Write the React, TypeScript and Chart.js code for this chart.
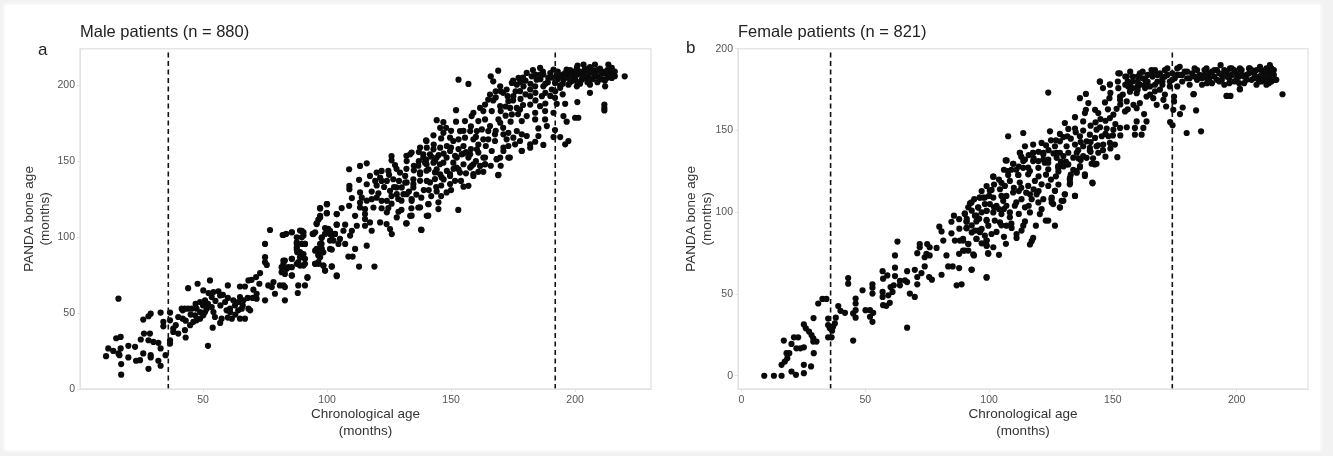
import React, { useEffect, useRef } from "react";
import { Chart, registerables } from "chart.js";

Chart.register(...registerables);

const FONT = '"Liberation Sans", Arial, sans-serif';

const maleTitle = "Male patients (n = 880)";
const femaleTitle = "Female patients (n = 821)";
const xAxisTitle = ["Chronological age", "(months)"];
const yAxisTitle = ["PANDA bone age", "(months)"];

const maleXTicks = [50, 100, 150, 200];
const maleYTicks = [0, 50, 100, 150, 200];
const femaleXTicks = [0, 50, 100, 150, 200];
const femaleYTicks = [0, 50, 100, 150, 200];
const maleCutoffs = [36, 192];
const femaleCutoffs = [36, 174];

const malePoints: number[][] = [
  [10.9,21.6],[11.8,26.7],[13.8,25.1],[15.9,23.4],[15.9,59.5],[15,33.4],[16.8,34.3],[17,9.4],[17,16.4],[16.8,26.7],[16.3,22.3],[19.9,28.4],[19.9,20.8],[22.6,27.8],[23,18.6],[24.6,19],[24.9,32.6],[25.9,23.4],[25.9,45.7],[28,47.9],[28.9,49.6],[26.2,36.5],[28.6,36.5],[28,32.1],[28,13.3],[28.9,22.3],[28.9,20.8],[30,31],[32,30.4],[32.9,26.7],[32,18.6],[32.9,15.3],[34.9,22.3],[32.9,50.3],[34,44.2],[34,41.3],
  [36.7,50.3],[36.7,45.2],[36.7,32.1],[36.7,29.9],[38,39.8],[38,37.6],[40,36.5],[40,47.4],[41.8,46.3],[41.8,51.8],[43,33.9],[42.7,38.7],[44,66.4],[44,52.9],[44.8,42],[42.7,52.9],[45.4,52.9],[47.8,69.3],[52.8,71.5],[60,68.2],[64.9,67.5],[66.9,67.5],[68.3,71.5],[69.6,71.9],[71.4,73.7],[73,76.3],
  [48.8,57.3],[50.8,58.4],[50.1,64.9],[52.2,63.2],[54.2,63.8],[56.2,64.3],[56.9,61.6],[53.5,60.5],[50.8,50.7],[48.8,50.7],[47.4,52.9],[46.8,48.5],[48.8,46.3],[46.1,44.2],[47.4,45.2],[50.1,48.5],[51.5,52.9],[53.5,54],[54.2,50.7],[54.8,47.4],[57.5,46.3],[56.9,43.5],[53.9,40.4],[52,28.4],[58.9,57.3],[59.5,51.8],[60.9,52.9],[61.6,46.3],[60.9,50.7],[62.2,58.4],[62.9,55.1],[64.2,57.3],[64.9,60.5],[65.6,52.9],[66.9,46.3],[64.9,46.3],[66.3,58.4],[68.3,52.9],[69,51.8],[64.2,51.8],[41.4,52.9],
  [75,95.5],[75,86.8],[75,83.5],[75.7,81.7],[77,104.7],[76.3,68.2],[78.4,70.4],[77.7,67.1],[79,62.7],[75,58.4],[71.6,62.7],[71.6,59.5],[70.3,65.4],[72.7,69.3],[82.1,101.4],[83.5,102.1],[83,84.6],[82.4,82.4],[81.7,80.2],[81.7,76.9],[83,75.8],[83.7,79.1],[83,58.4],[82.4,68.2],[81,68.2],[83,67.1],[85.8,103.2],[85.8,85.7],[85.8,80.2],[85.8,74.8],[89.1,104.3],[90.5,103.2],[87.8,96.6],[87.8,93.3],[88,90.1],[89.8,95.5],[91.1,95.5],[89.1,90.1],[89.8,86.8],[91.1,85.7],[89.1,81.3],[91.1,82.4],[88.4,83.5],[88.4,68.2],[91.1,68.2],[88.2,63.2],[92.1,73.2],[89.8,99.9],
  [94.2,102.1],[95.2,103.2],[97.2,119.1],[100,121.7],[99.9,115.8],[97.2,113],[95.8,108.6],[95.2,91.1],[96.5,89],[95.2,82.4],[96.5,82.4],[97.2,86.8],[97.9,92.2],[97.2,95.5],[97.9,99.9],[99.2,102.1],[100.5,105.4],[101.2,102.1],[98.5,81.3],[99.2,78],[101.9,80.7],[101.2,92.2],[102.6,97.7],[103.9,115.2],[103.9,108.2],[103.9,74.8],[103.2,102.1],
  [126,153.4],[126,150.6],[116,148.6],[113.3,146.9],[108.9,144.7],[127.4,147.5],[132.1,150.1],[133.5,154.5],[138.8,152.3],[120,142.5],[117.3,140.3],[122,143.6],[124.7,143.6],[112.9,137.7],[116,134.8],[119.4,137],[121.4,139.2],[124.1,137],[126.7,138.1],[129.4,142.5],[131.5,140.3],[131.5,135.9],[134.8,138.1],[137.5,141.4],[140.2,137],[109,133.7],[109,131.6],[113.3,129.4],[120.7,128.9],[125.4,130.5],[128.1,128.3],[130.8,128.3],[134.8,132.7],[110,125.7],[113.3,122.8],[122,123.9],[124.1,123.9],[134.1,123.9],[99.9,121.7],[97.2,118.9],[108.9,120.6],[105.9,119.1],[99.9,115.8],[103.9,115.2],[97.2,114],[96.5,111.5],[95.8,109],[113.3,119.5],[115.3,118.4],[118.7,119.5],[115.3,115.2],[111.3,114],[124.1,116.3],[124.7,119.1],[128.8,116.7],[128.1,113],[133.5,114],[136.8,119.5],[140.9,121.7],[140.2,114],[131.9,109],[137.9,104.9],
  [82.4,101.4],[85.8,103.2],[89.8,104.2],[90.5,101],[94.5,102],[99.2,106],[101.2,104.2],[101.9,101],[97.8,99.4],[103.9,108.2],[107.3,108.2],[106.6,104.2],[110,104.2],[112,107.5],[115.3,111.9],[117.3,109.7],[115.3,107.5],[118,104.2],[121.4,109.7],[124,108.6],[125.4,105.3],[126.1,102],[109.3,101],[105.2,98.8],[103.2,102],[101.2,97.7],[104.6,95.5],[107.3,95.5],[97.8,95.5],[95.8,92.2],[98.5,90],[101.9,91.8],[111.3,92.2],[116,94.4],[108.6,87.2],[110.3,87.2],[87.8,99.9],[87.8,95.5],[87.8,91.8],[91.1,95.5],[90.5,88.9],[89.1,86.8],[96.5,87.9],[96.5,83.5],[95.2,82.4],[98.5,81.3],[99.2,78],[101.9,80.6],[112.9,80.6],[119.1,80.6],[103.9,74.3],[92.1,73.6],[85.8,74.7],[82.4,84.6],[85.8,85.7],[90.5,81.3],[84.4,80.2],[87.8,82.4],
  [153,203.7],[157,200.9],[169,209.6],[166,205.9],[167,202.6],[220,205.9],[211.8,187.3],[211.8,185.1],[211.8,183.4],[152,183.6],[144.2,177],[146.9,175.7],[139.9,163.7],[142.9,167],[169.8,199.3],[172.4,197.2],[174.5,201.5],[177.2,204.8],[176.5,200.4],[179.2,199.3],[180.5,208.1],[182.5,205.9],[185.9,211.4],[184.5,203.7],[187.2,207],[189.2,204.8],[191.3,210.3],[192.6,207],[191.9,201.5],[195.3,203.7],[196.6,210.3],[199.3,205.9],[200.7,211.4],[203.4,213.6],[203.4,208.1],[206,208.1],[208,213.6],[208,205.9],[210.8,208.1],[213.4,213.6],[214.8,211.4],[214.8,204.8],[212.1,199.3],[206,200.4],[206,195],[202.7,203.7],[200.7,199.3],[197.3,200.4],[194,198.3],[190.6,197.2],[187.2,199.3],[183.9,199.3],[181.9,197.2],[177.8,196.1],[172.8,192.8],[175.1,192.8],[165.7,193.9],[165,190.6],[163.7,187.3],[169.8,186.2],[173.1,189.5],[173.8,185.1],[181.9,192.8],[181.9,187.3],[186.6,192.8],[185.9,186.2],[191.9,191.7],[196,187.8],[192.6,187.8],[200.9,188.9],[191.3,181.9],[187.9,183],[183.9,181.9],[176.5,185.1],[161.7,185.1],[163,183],[166.4,183],[159,181.9],[158.3,179.7],[161,176.4],[163.7,177.5],[169.1,177.5],[169.8,175.3],[174.5,180.8],[177.8,184],[180.5,179.7],[178.5,176.4],[183.9,177.5],[187.9,177.5],[188.6,173.1],[185.2,171.6],[191.9,170.5],[195.3,179.7],[196.6,176],[200,178.6],[201.3,178.6],[185.2,166.6],[191.3,165.9],[194,165.9],[197.3,163.3],[196,161.1],[187.2,160.7],[183.9,162.8],[181.9,161.1],[181.9,158.9],
  [145.6,172],[146.9,168.7],[149.6,165.5],[153.6,169.8],[155.6,176.4],[157.7,169.8],[160.4,169.8],[162.4,170.9],[165,169.8],[165.7,173.1],[167.7,167.7],[153,164.4],[155.6,165.5],[159,164.4],[163,164.4],[165,164.4],[167.7,163.3],[171.1,167.7],[173.1,168.7],[176.5,169.8],[178.5,167.7],[180.5,166.6],[172.4,164.4],[175.1,165.5],[177.8,163.3],[173.1,160],[175.8,161.1],[178.5,156.7],[171.1,156.7],[173.1,152.4],[169.8,152.4],[168.4,151.3],[166.4,156.7],[163,152.4],[163.7,148],[161.7,146.9],[159,148],[157.7,145.8],[169.1,141],[159,140.3],[157.7,154.5],[160.4,157.8],[155,160],[150.9,163.3],[148.3,160],[145.6,158.9],[142.9,157.8],[140.2,158.9],[138.8,154.5],[141.5,154.5],[144.2,152.4],[149.6,156.7],[152.3,152.4],[154.3,154.5],[139.5,149],[142.9,149],[146.9,149],[150.9,149],[153,144.7],[148.3,143.6],[144.2,144.7],[140.9,144.7],[149.6,140.3],[153.6,142.5],[145.6,141.4],
  [132,153.5],[134.1,155.7],[137.5,159],[140.1,163.3],[136.8,147],[140.1,148],[143.5,150.2],[140.1,143.7],[137.5,142.6],[143.5,142.6],[145.5,148],[148.2,152.4],[151.6,153.5],[152.2,145.8],[149.6,141.5],[146.2,139.3],[143.5,138.2],[141.5,136],[137.5,137.1],[134.8,134.9],[132.1,136],[130.1,132.7],[128,132.7],[134.1,125.1],[132.1,128.3],[128.7,125.1],[137.5,119.6],[140.8,121.8],[144.9,122.9],[144.9,118.5],[140.8,114.1],[152.9,117.9],[138.1,104.7],[134.1,114.1],[132.1,109.1],[157,133.8],[155,133.2],[151.6,137.1],[149.6,134.9],[148.2,129.4],[144.2,130.1],[169,140.8],[158.3,147],[159,141.5],[163.7,148],[163.7,152.4],[161,155.7],[157,152.4],[168.4,151.3],[171.1,159],[173.7,152.4],[178.5,156.8],
  [186,204],[188,201],[190,208],[193,204],[194,200],[195,207],[197,205],[198,202],[199,209],[200,204],[201,207],[202,201],[204,205],[204,211],[205,202],[206,212],[207,204],[207,210],[209,202],[209,206],[210,211],[211,204],[212,208],[213,205],[213,210],[215,208],[216,206],[205,206],[201,213],[198,207],[178,202],[180,203],[182,201],[184,207],[176,196],[171,195],[168,196],[167,190],[170,183],[172,180],[158,173],[160,166],[150,170],[152,176],[155,170],[148,172],[146,165],[143,161],[137,156],[135,147],[129,137],[127,133],[123,133],[118,130],[114,126],[116,124],[120,126],[122,119],[126,122],[130,124],[133,130],[136,128],[139,131],[142,127],[146,134],[147,138],[151,145],[155,148],[156,156],[160,150],[161,143],
  [187,209],[189,202],[191,205],[193,209],[195,201],[196,208],[198,210],[199,203],[201,202],[203,206],[205,210],[206,204],[208,207],[209,210],[210,204],[211,209],[212,203],[214,207],[216,209],[202,209],[200,209],[194,206],[186,207],[183,210],[179,205],[175,203],[170,196],[168,192],[172,186],[175,190],[178,191],[180,194],[184,195],[188,195],[190,193],[192,196],[195,194],[184,190],[188,188],[179,187],[177,181],[174,176],[171,172],[168,170],[164,160],[161,161],[158,158],[155,155],[153,158],[150,159],[147,155],[145,154],[142,153],[140,151],[137,150],[135,144],[132,145],[128,145],[125,141],[122,137],[120,134],[118,125],[126,127],[130,118],[134,119],[138,126],[141,131],[144,133],[146,127],[150,131],[154,137],[156,142],[163,143],[166,147],[170,147],[60,47],[63,49],[57,55],[55,58],[52,56],[50,55],[47,56],[45,49],[43,45],[39,42],[66,55],[68,60],[70,60],[60,60],[58,62],
];

const femalePoints: number[][] = [
  [9.2,0],[13.1,0],[16.2,0],[20.2,2.6],[22,0.6],[25.2,1.6],[25.2,6.7],[28.1,5.7],[16.2,6.7],[17.5,8.7],[18.5,10.7],[18.2,13.8],[19.3,13.8],[29.2,13.8],[17.1,21.5],[20.2,19.5],[21.2,23.5],[22.9,23.5],[22.2,16.8],[23.8,16.8],[25.2,17.4],[25.2,31.4],[26,29],[27.3,27],[28.3,24.9],[29,22.9],[30.3,20.9],[29,20.9],[29.1,35.3],[31,44.2],[32.7,47],[34.3,47],
  [35,35],[35,31],[35.7,29],[37,30],[35,23.5],[36.4,23.5],[38.1,35.5],[37.7,32],[36.6,27.6],[39.1,42.6],[40,39.7],[41.8,38.5],[43.1,59.8],[43.1,56.3],[45.1,21.5],[45.1,38.1],[46.1,47.2],[46.1,44.2],[46.1,40.1],[46.1,35.5],[48.9,52.3],[50.1,40.1],[51.9,40.1],[51.9,36.1],[52.9,33],[53.2,38.5],[52.9,55.9],[52.9,53.9],[52.9,50.3],[57,64],[57.2,59.4],[57,51.3],[57,48.2],[57.2,43.2],[58.5,42.8],[59.9,44.6],[58.9,61.4],[59.3,49.2],[60.2,54.3],[61,51.3],[61.5,55.3],[62,73.6],[63,82.1],[62,66.1],[62,61],[64,55.3],[64,58],[66,58.4],[66.9,64],[66.9,57.3],[66.9,29.4],[68,50.3],[70,48.2],[70,64.8],[71,60.4],[71,55.9],[71,75],[72,80.6],[72,78.6],[72.7,62.8],[74,66.9],[74,72.5],[75,80.6],[76,78.6],[74.7,74.6],[76,73.6],[75.8,60.4],[76.9,58.8],[78.8,78.2],[79.9,91.2],[80.8,88.3],[80.8,61.8],[81.5,82.7],[82.8,73.6],[83.5,66.9],[85.3,66.9],[84.8,94.2],[84.8,87.1],[85.8,97.9],[86.9,55.3],[88.9,55.9],[87.9,95.8],[87.9,65.9],[87.9,74.6],[86.2,82.7],[88.2,82.7],[89.5,83.7],[90.2,98.9],[90.9,94.2],[90.9,90.4],[90.2,76.6],[91.6,80.6],[91.6,76.6],[92.3,105.4],[93,87.7],[93,64.8],[93.9,73.6],[94.9,97.9],[95.6,88.8],[94.9,83.7],[95.6,102.9],[96.2,109],[97.6,109],[97,89.8],[98.3,105],[99,82.7],[99,79.6],[99,100.9],[99,94.8],[99,60.4],[99.7,74.6],[100.3,113.1],[98.3,85.7],
  [106.7,131.7],[109.7,129.7],[101.7,121.8],[107.7,125.2],[107.7,122.8],[111.8,122.8],[113.8,131.3],[115.8,127.3],[115.8,123.2],[119.9,131.3],[122.5,130.3],[123.9,126.3],[127.9,128.3],[130,134.4],[134,133.4],[136.7,128.3],[138.7,123.2],[132.6,120.2],[132.6,117.1],[141.7,118.2],[134.7,110],[130.6,111],[130,107],[128.6,103],[126.6,113.1],[125.2,108],[125.9,105],[108.4,119.2],[106.4,116.1],[109.7,112.1],[112.4,118.2],[115.8,116.1],[118.5,119.2],[121.2,117.1],[123.9,116.1],[116.5,111],[119.2,111],[121.9,108],[119.9,106],[117.2,108],[113.1,108],[110.4,104],[114.5,103],[116.5,99.9],[121.2,101.9],[120.5,98.9],[104.4,114.1],[101,113.7],[105,110],[96.3,109],[98.3,109],[101.7,109],[105.7,107],[100.3,105],[103,104],[92.9,106],[91.6,103],[90.2,99.3],[95.6,103],[99,100.9],[101.7,99.9],[108.4,99.9],[108.4,96.9],[105,98.9],[94.3,97.9],[90.9,94.4],[94.9,94.4],[99,95.3],[102.3,94.9],[104.4,93.8],[107,91.8],[109.1,90.4],[114.5,94.4],[113.8,91.8],[113.1,88.8],[118.9,91.8],[122.9,94.9],[123.9,94.9],[126.6,91.8],[111.1,86.7],[111.1,84.3],[117.8,84.3],[117.2,82.3],[116.5,80.3],[106.8,80.7],[101.7,78.6],[99.6,75],[104,74],[93.6,74.2],[92.9,65],[99,60],[90.9,90.2],[94.3,88.8],[96.3,87.8],[94.9,83.7],[99.7,91.8],[101,86.7],[99,82.7],[99,79.6],[89.5,82.7],[91.6,80.7],[89.5,76.6],[112.4,136.4],[117.8,136.4],[121.9,135.4],[127.3,136.4],[131.3,129.3],[135.3,125.2],[142.7,129.3],[127.3,133.3],[123.9,132.3],
  [123.9,173.2],[107.7,146.5],[113.8,148.5],[218.5,172.2],[196,171.2],[197.5,171.2],[179.8,148.5],[185.6,149.5],[183.6,162.3],[182.5,172.2],[201.3,175.3],[144.8,179.9],[136.7,169.8],[139.1,172.4],[148.8,178.3],[146.8,167.2],[148.6,169.8],[152.2,175.9],[152.9,170.8],[152.9,168.8],[152.2,185],[155.6,183],[140.1,166.8],[139.1,162.7],[138.7,160.7],[142.8,162.7],[144.1,160.7],[151.5,163.3],[154.9,161.7],[134.7,158.2],[130.6,154.6],[138,155.6],[134.7,151.2],[124.6,149.5],[128.6,147.9],[131.6,146.5],[150.2,159.7],[148.8,157.6],[159.6,155.6],[163.6,155.6],[162.6,160.1],[155.6,167.8],[156.9,173.8],[156.2,176.9],[158.3,165.7],[159.6,163.7],[160.9,166.8],[159.6,172.8],[163.6,170.8],[166.3,169.8],[167.7,165.7],[170.4,168.8],[171.5,164.7],[174.7,170.8],[174.7,167.8],[174.4,162.7],[178.2,164.1],[177.1,160.1],[173.1,155.2],[174.1,153.2],[144.8,152],[147.5,151.2],[150.2,150.5],[152.9,151.6],[155.6,152],[158.9,151.6],[162.3,151.6],[158.9,147.5],[161.6,147.5],[143.4,150.5],[140.7,147.5],[136.7,146.5],[139.4,143.4],[142.8,145.5],[145.5,146.5],[148.2,146.5],[150.8,141.4],[148.8,142.4],[146.1,141.4],[143.4,140.4],[140.7,139.4],[138,140.4],[134.7,141.4],[131.3,140.4],[128.6,143.4],[126.6,140.4],[128.6,136.4],[132,136.4],[135.4,136.4],[138,134.3],[140.7,137.8],[144.1,136.4],[151.8,133.7],[143.4,129.7],[141.4,129.7],[139.4,133.3],[136.7,127.6],[135.4,124.2],[138.7,122.2],[141.8,117.7],[132.7,121.2],[132.7,118.1],[134.7,110],[130.6,111],[129.3,107],[128.6,102.9],[126.6,113.1],[125.3,109],[125.3,106],[121.9,136.4],[121.2,142.4],[117.8,141.4],[114.5,140.4],[112.5,136.4],[117.8,136.4],[114.5,132.3],[107.1,131.7],[109.8,129.7],[117.8,131.3],[121.9,132.3],[123.9,130.3],[127.9,127.2],[132,129.3],[113.8,127.2],[116.5,125.2],[119.9,127.2],[101.7,121.8],[107.7,125.2],[111.8,122.8],
  [152.8,185],[144.7,180],[148.8,178],[160.9,185],[165.6,187],[171,187],[177,189],[187.8,188],[193.5,190],[197.3,188],[201.3,188],[205.3,188],[209.4,189],[213.4,190],[215.4,181],[212,178],[201.3,175.3],[195.9,171.2],[182.7,172.3],[155,183],[157,186],[158,180],[160,183],[161,178],[162,186],[163,181],[164,184],[165,177],[166,183],[167,187],[168,180],[169,185],[170,178],[171,183],[172,188],[173,180],[174,185],[175,182],[176,177],[176,188],[177,184],[178,180],[179,186],[180,182],[181,178],[182,185],[183,188],[184,181],[185,184],[186,178],[187,187],[188,182],[189,185],[190,179],[191,183],[192,187],[193,180],[194,184],[195,178],[196,186],[197,182],[198,188],[199,180],[200,185],[201,183],[202,187],[203,179],[204,184],[205,188],[206,181],[207,185],[208,178],[209,183],[210,187],[210,180],[211,184],[212,188],[213,182],[213,186],[214,184],[214,180],[215,187],[215,182],[216,181],
  [154,172],[156,180],[158,176],[160,177],[163,176],[165,172],[167,174],[169,175],[171,172],[156,163],[153,166],[146,176],[104,102],[107,104],[112,113],[118,114],[112,99],[103,88],[106,85],[96,96],[97,81],[88,90],[128,125],[131,131],[136,133],[125,120],[127,122],[120,122],[112,128],[105,118],[137,143],[141,143],[133,145],[126,136],[124,138],[129,131],[134,126],[136,138],[142,133],[146,138],[149,139],[147,134],
  [158,183],[160,180],[162,182],[164,180],[166,186],[168,184],[170,182],[172,184],[174,181],[176,184],[178,184],[180,186],[181,182],[183,183],[184,187],[186,182],[187,184],[188,179],[189,182],[190,186],[191,187],[192,181],[193,185],[194,181],[195,187],[196,183],[197,179],[198,184],[199,187],[200,182],[201,179],[202,184],[203,183],[204,181],[205,185],[206,187],[207,182],[208,187],[209,180],[210,184],[211,181],[212,185],[213,179],[214,188],[215,184],[173,177],[170,180],[167,178],[163,178],[160,175],[157,177],[155,178],[152,180],[149,173],[147,156],[145,157],[143,155],[141,153],[138,150],[135,149],[132,151],[130,146],[127,144],[125,144],[123,141],[120,137],[118,133],[116,135],[113,134],[111,126],[109,126],[106,126],[104,120],[102,117],[100,110],[99,116],[97,113],[94,108],[107,110],[110,115],[113,115],[115,112],[111,106],[106,102],[102,103],[97,100],[93,101],[91,96],[93,92],[105,92],[109,93],[116,104],[120,113],[123,123],[128,117],[130,128],[133,123],[137,132],[141,137],[144,141],[147,148],[150,147],[153,147],[151,154],[148,163],
];

const panelLetterStyle: React.CSSProperties = {
  position: "absolute", font: `17px ${FONT}`, color: "#222", lineHeight: "18px",
};

type PanelProps = {
  left: number; width: number; title: string; points: number[][]; cutoffs: number[];
  xTicks: number[]; yTicks: number[]; xMin: number; xMax: number; yMin: number; yMax: number;
  plotLeft: number; plotRight: number; titleLeft: number;
};

const framePlugin = {
  id: "frame",
  afterDraw(chart: any) {
    const { ctx, chartArea: a } = chart;
    ctx.save();
    ctx.strokeStyle = "#e2e2e2";
    ctx.lineWidth = 1.3;
    ctx.strokeRect(a.left, a.top, a.right - a.left, a.bottom - a.top);
    ctx.restore();
  },
};

function Panel(p: PanelProps) {
  const ref = useRef<HTMLCanvasElement | null>(null);
  useEffect(() => {
    if (!ref.current) return;
    const fixedTicks = (vals: number[]) => (s: any) => { s.ticks = vals.map((v) => ({ value: v })); };
    const chart = new Chart(ref.current, {
      type: "scatter",
      data: {
        datasets: [
          ...p.cutoffs.map((c) => ({
            data: [{ x: c, y: p.yMin }, { x: c, y: p.yMax }],
            showLine: true, borderColor: "#111", borderWidth: 1.6, borderDash: [5, 3.5],
            pointRadius: 0, pointHoverRadius: 0,
          })),
          {
            data: p.points.map(([x, y]) => ({ x, y })),
            backgroundColor: "#0a0a0a", borderColor: "#0a0a0a", borderWidth: 0, pointRadius: 3.1, showLine: false,
          },
        ],
      },
      options: {
        responsive: false, animation: false,
        layout: { padding: { top: 23, bottom: 17, left: p.titleLeft, right: p.width - p.plotRight } },
        plugins: {
          legend: { display: false },
          tooltip: { enabled: false },
          title: {
            display: true, text: p.title, align: "start", fullSize: false, color: "#222",
            font: { family: FONT, size: 16.5, weight: "normal", lineHeight: 1.2 },
            padding: { top: 0, bottom: 6 },
          },
        },
        scales: {
          x: {
            type: "linear", min: p.xMin, max: p.xMax, afterBuildTicks: fixedTicks(p.xTicks),
            afterFit: (s: any) => { s.height = 50; },
            border: { color: "#e2e2e2" },
            grid: { drawOnChartArea: false, drawTicks: true, tickLength: 3, color: "#e2e2e2" },
            ticks: { color: "#555", font: { family: FONT, size: 10.5 }, padding: 2, maxRotation: 0 },
            title: { display: true, text: xAxisTitle, color: "#333", font: { family: FONT, size: 13.5, lineHeight: 1.2 }, padding: { top: 2, bottom: 0 } },
          },
          y: {
            type: "linear", min: p.yMin, max: p.yMax, afterBuildTicks: fixedTicks(p.yTicks),
            afterFit: (s: any) => { s.width = p.plotLeft - p.titleLeft; },
            border: { color: "#e2e2e2" },
            grid: { drawOnChartArea: false, drawTicks: true, tickLength: 3, color: "#e2e2e2" },
            ticks: { color: "#555", font: { family: FONT, size: 10.5 }, padding: 2 },
            title: { display: true, text: yAxisTitle, color: "#333", font: { family: FONT, size: 13.5, lineHeight: 1.2 }, padding: { top: 0, bottom: 2 } },
          },
        },
      },
      plugins: [framePlugin],
    } as any);
    return () => chart.destroy();
  }, []);
  return (
    <canvas
      ref={ref} width={p.width} height={456}
      style={{ position: "absolute", left: p.left, top: 0, width: p.width, height: 456, filter: "blur(0.45px)" }}
    />
  );
}

export default function App() {
  return (
    <div style={{ position: "fixed", left: 0, top: 0, width: 1333, height: 456, background: "#f2f2f2", overflow: "hidden" }}>
      <div style={{ position: "absolute", left: 5, top: 5, width: 1315, height: 445, background: "#fff", boxShadow: "0 0 4px 1px #fff" }} />
      <Panel left={0} width={666} title={maleTitle} points={malePoints} cutoffs={maleCutoffs} titleLeft={21}
        xTicks={maleXTicks} yTicks={maleYTicks} xMin={0.4} xMax={230.6} yMin={0} yMax={224} plotLeft={80} plotRight={651} />
      <Panel left={666} width={667} title={femaleTitle} points={femalePoints} cutoffs={femaleCutoffs} titleLeft={17}
        xTicks={femaleXTicks} yTicks={femaleYTicks} xMin={-1.4} xMax={228.8} yMin={-8.1} yMax={200} plotLeft={72} plotRight={642} />
      <div style={{ ...panelLetterStyle, left: 38, top: 41 }}>a</div>
      <div style={{ ...panelLetterStyle, left: 686, top: 39 }}>b</div>
    </div>
  );
}
